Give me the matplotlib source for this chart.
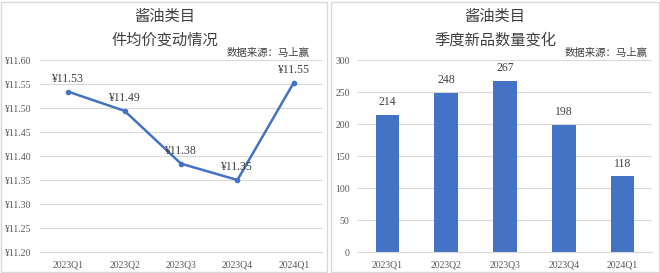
import matplotlib
matplotlib.use("Agg")
import matplotlib.pyplot as plt
from matplotlib.patches import Rectangle
import numpy as np

quarters = ["2023Q1", "2023Q2", "2023Q3", "2023Q4", "2024Q1"]
avg_price = [11.534, 11.494, 11.384, 11.350, 11.553]
new_items = [214, 248, 267, 198, 118]

price_ticks = [11.20, 11.25, 11.30, 11.35, 11.40, 11.45, 11.50, 11.55, 11.60]
count_ticks = [0, 50, 100, 150, 200, 250, 300]

blue = "#4472C4"
grid = "#D9D9D9"
txt = "#595959"
num_font = ["Liberation Serif", "Noto Sans CJK SC"]
cjk_font = ["Noto Sans CJK SC", "DejaVu Sans"]

fig = plt.figure(figsize=(6.6, 2.73), dpi=100)

# panel frames
for x0, w in [(1, 326), (331, 328)]:
    fig.patches.append(Rectangle((x0 / 660, 1 / 273), w / 660, 270 / 273,
                                 transform=fig.transFigure, fill=False,
                                 edgecolor=grid, linewidth=1))

ax1 = fig.add_axes([40 / 660, 1 - 252 / 273, 282 / 660, 192 / 273])
ax2 = fig.add_axes([358 / 660, 1 - 252 / 273, 294 / 660, 192 / 273])

x = np.arange(len(quarters))

# line chart
ax1.plot(x, avg_price, color=blue, linewidth=1.8, marker="o", markersize=3)
for xi, v in zip(x, avg_price):
    ax1.annotate("¥%.2f" % v, (xi, v), xytext=(0, 5), textcoords="offset points",
                 ha="center", va="bottom", fontsize=8.5, color="#404040", family=num_font)
ax1.set_ylim(11.20, 11.60)
ax1.set_yticks(price_ticks)
ax1.set_yticklabels(["¥%.2f" % t for t in price_ticks])

# bar chart
ax2.bar(x, new_items, width=0.4, color=blue, zorder=2)
for xi, v in zip(x, new_items):
    ax2.annotate(str(v), (xi, v), xytext=(0, 5), textcoords="offset points",
                 ha="center", va="bottom", fontsize=8.5, color="#404040", family=num_font)
ax2.set_ylim(0, 300)
ax2.set_yticks(count_ticks)

for ax in (ax1, ax2):
    ax.set_xlim(-0.5, len(quarters) - 0.5)
    ax.set_xticks(x)
    ax.set_xticklabels(quarters)
    ax.grid(axis="y", color=grid, linewidth=0.8, zorder=0)
    ax.set_axisbelow(True)
    for s in ("top", "right", "left"):
        ax.spines[s].set_visible(False)
    ax.spines["bottom"].set_color(grid)
    ax.tick_params(length=0, labelsize=7, labelcolor=txt, pad=6)
    for lab in ax.get_xticklabels() + ax.get_yticklabels():
        lab.set_family(num_font)

# titles
fig.text(165 / 660, 1 - 16 / 273, "酱油类目", ha="center", va="center",
         fontsize=11, color="#404040", family=cjk_font)
fig.text(165 / 660, 1 - 40 / 273, "件均价变动情况", ha="center", va="center",
         fontsize=11, color="#404040", family=cjk_font)
fig.text(310 / 660, 1 - 53 / 273, "数据来源：马上赢", ha="right", va="center",
         fontsize=7.5, color="#404040", family=cjk_font)

fig.text(495 / 660, 1 - 16 / 273, "酱油类目", ha="center", va="center",
         fontsize=11, color="#404040", family=cjk_font)
fig.text(495 / 660, 1 - 40 / 273, "季度新品数量变化", ha="center", va="center",
         fontsize=11, color="#404040", family=cjk_font)
fig.text(648 / 660, 1 - 53 / 273, "数据来源：马上赢", ha="right", va="center",
         fontsize=7.5, color="#404040", family=cjk_font)

fig.savefig("out.png", dpi=100)
